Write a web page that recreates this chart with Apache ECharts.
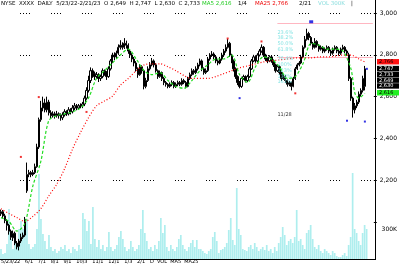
<!DOCTYPE html>
<html><head><meta charset="utf-8">
<script src="https://cdn.jsdelivr.net/npm/echarts/dist/echarts.min.js"></script>
<style>html,body{margin:0;padding:0;background:#fff}#c{width:400px;height:264px}</style>
</head><body><div id="c"></div>
<script>
const opens = [2040,2050,2030,2008,1985,1957,1925,1947,1900,1885,
 1910,1928,1938,2150,2228,2237,2228,2237,2265,2359,
 2490,2546,2570,2537,2574,2523,2509,2518,2509,2518,
 2509,2499,2513,2528,2518,2537,2528,2546,2556,2546,
 2556,2556,2565,2593,2630,2677,2724,2710,2696,2705,
 2687,2696,2724,2715,2696,2733,2771,2799,2790,2808,
 2836,2846,2836,2855,2846,2818,2799,2780,2761,2733,
 2705,2743,2724,2649,2677,2733,2752,2771,2752,2724,
 2696,2715,2687,2668,2659,2649,2659,2668,2649,2659,
 2668,2659,2677,2668,2649,2687,2705,2724,2715,2733,
 2752,2771,2733,2715,2724,2780,2799,2804,2790,2771,
 2761,2780,2799,2818,2836,2855,2799,2771,2733,2696,
 2668,2649,2687,2696,2677,2696,2733,2771,2790,2771,
 2799,2818,2836,2799,2780,2771,2790,2771,2752,2724,
 2743,2715,2687,2696,2677,2659,2668,2649,2687,2733,
 2752,2761,2790,2836,2874,2902,2883,2855,2836,2864,
 2846,2827,2836,2818,2827,2836,2818,2808,2827,2836,
 2818,2808,2827,2836,2818,2800,2687,2593,2537,2556,
 2574,2612,2630,2649];
const closes = [2050,2030,2008,1985,1957,1928,1947,1900,1882,1910,
 1928,1938,2013,2228,2237,2228,2237,2265,2359,2490,
 2546,2570,2537,2574,2523,2509,2518,2509,2518,2509,
 2499,2513,2528,2518,2537,2528,2546,2556,2546,2556,
 2556,2565,2593,2630,2677,2724,2710,2696,2705,2687,
 2696,2724,2715,2696,2733,2771,2799,2790,2808,2836,
 2846,2836,2855,2846,2818,2799,2780,2761,2733,2705,
 2743,2724,2649,2677,2733,2752,2771,2752,2724,2696,
 2715,2687,2668,2659,2649,2659,2668,2649,2659,2668,
 2659,2677,2668,2649,2687,2705,2724,2715,2733,2752,
 2771,2733,2715,2724,2780,2799,2804,2790,2771,2761,
 2780,2799,2818,2836,2855,2799,2771,2733,2696,2668,
 2649,2687,2696,2677,2696,2733,2771,2790,2771,2799,
 2818,2836,2799,2780,2771,2790,2771,2752,2724,2743,
 2715,2687,2696,2677,2659,2668,2649,2687,2733,2752,
 2761,2790,2836,2874,2902,2883,2855,2836,2864,2846,
 2827,2836,2818,2827,2836,2818,2808,2827,2836,2818,
 2808,2827,2836,2818,2808,2687,2593,2537,2556,2574,
 2612,2630,2687,2733];
const lows = [2030,2020,1995,1960,1940,1915,1910,1890,1870,1865,
 1900,1920,1930,2140,2215,2215,2220,2230,2260,2350,
 2480,2530,2525,2525,2510,2495,2500,2495,2500,2495,
 2485,2488,2505,2508,2510,2515,2520,2535,2535,2538,
 2545,2545,2555,2585,2620,2665,2690,2680,2685,2670,
 2675,2688,2700,2680,2690,2725,2760,2775,2780,2800,
 2825,2825,2828,2830,2805,2785,2765,2745,2720,2690,
 2700,2710,2635,2640,2670,2725,2745,2740,2715,2685,
 2690,2675,2655,2648,2640,2642,2650,2640,2642,2650,
 2650,2652,2660,2640,2645,2680,2698,2705,2708,2725,
 2745,2722,2705,2708,2718,2772,2790,2780,2760,2750,
 2755,2772,2790,2810,2830,2790,2760,2720,2685,2655,
 2640,2642,2680,2668,2670,2690,2728,2765,2762,2765,
 2792,2810,2790,2770,2760,2765,2762,2742,2715,2718,
 2705,2675,2680,2665,2648,2650,2630,2645,2680,2728,
 2745,2755,2785,2830,2868,2870,2845,2825,2830,2835,
 2815,2820,2808,2810,2820,2808,2798,2800,2820,2808,
 2798,2800,2820,2808,2795,2675,2580,2500,2520,2545,
 2565,2600,2620,2630];
const highs = [2060,2058,2040,2015,1992,1965,1960,1955,1910,1920,
 1945,1950,2025,2285,2250,2245,2250,2280,2375,2500,
 2580,2600,2590,2600,2585,2535,2530,2528,2532,2525,
 2520,2525,2540,2535,2550,2545,2560,2570,2565,2565,
 2568,2575,2605,2645,2700,2740,2735,2720,2718,2712,
 2705,2735,2730,2722,2745,2780,2810,2812,2820,2850,
 2870,2860,2880,2868,2855,2825,2808,2790,2770,2740,
 2755,2750,2730,2690,2745,2765,2785,2778,2760,2730,
 2725,2720,2695,2675,2665,2668,2678,2675,2668,2677,
 2675,2688,2685,2675,2695,2715,2735,2732,2745,2762,
 2782,2778,2740,2735,2790,2808,2818,2812,2795,2778,
 2790,2810,2828,2850,2875,2862,2805,2778,2740,2702,
 2675,2695,2705,2702,2705,2742,2780,2800,2798,2808,
 2828,2850,2842,2805,2788,2798,2795,2778,2758,2750,
 2750,2720,2705,2702,2682,2675,2672,2695,2742,2760,
 2770,2800,2845,2890,2925,2910,2890,2862,2880,2870,
 2852,2845,2842,2835,2845,2842,2825,2835,2845,2842,
 2825,2835,2848,2842,2825,2810,2695,2600,2570,2585,
 2625,2640,2700,2747];
const volumes = [100,50,60,150,500,200,100,250,150,300,
 380,300,250,400,150,100,120,150,300,850,
 400,250,180,100,240,120,80,100,60,80,
 120,100,140,80,100,60,120,100,80,140,
 100,460,400,280,380,150,520,200,120,190,
 100,140,80,120,270,120,80,100,140,220,
 280,200,120,80,100,180,120,80,100,140,
 300,490,260,180,100,120,80,140,100,180,
 410,260,340,120,80,140,100,80,120,200,
 240,140,100,80,120,160,190,120,190,100,
 100,80,60,50,80,100,220,270,180,60,
 90,100,120,160,290,410,190,140,710,300,
 240,100,90,80,120,140,100,160,120,80,
 100,120,90,140,80,100,60,120,80,160,
 220,320,240,140,180,200,160,220,490,180,
 200,140,100,260,290,340,200,120,100,140,
 80,60,100,80,60,40,80,60,30,20,
 20,40,60,30,140,220,860,300,260,180,
 140,260,340,300];
const maShortIdx = [0,4,8,12,16,20,24,28,32,36,40,44,48,52,56,60,64,68,72,76,80,84,88,92,96,100,104,108,112,116,120,124,128,132,136,140,144,148,152,156,160,164,168,172,176,178,180,182,183];
const maShortVal = [2022,2003,1957,1994,2172,2289,2485,2509,2518,2528,
 2546,2593,2687,2724,2761,2799,2827,2780,2724,2705,
 2715,2677,2649,2640,2677,2724,2752,2780,2780,2799,
 2705,2668,2743,2790,2780,2743,2687,2696,2761,2855,
 2846,2827,2827,2818,2733,2616,2593,2607,2616];
const maLongIdx = [0,4,8,12,16,20,24,28,32,36,40,44,48,52,56,60,64,68,72,76,80,84,88,92,96,100,104,108,112,116,120,124,128,132,136,140,144,148,152,156,160,164,168,172,176,180,183];
const maLongVal = [2064,2041,2022,2003,2027,2064,2125,2181,2256,2350,
 2429,2499,2556,2579,2602,2654,2687,2724,2752,2757,
 2757,2743,2724,2701,2687,2687,2687,2696,2710,2724,
 2738,2747,2757,2766,2771,2776,2780,2785,2785,2785,
 2790,2790,2794,2799,2799,2780,2766];
const priceGridLevels = [3000, 2800, 2200];
const pinkLevels = [2953, 2790];
const pinkFrom = 139;
const fibIdx = 139;
const fibVals = [2907, 2880, 2852, 2825, 2780, 2752, 2724, 2696, 2670];
const fibTexts = ['23.6%','38.2%','50.0%','61.8%','76.4%','100%','123%','138%','161%'];
const redMarkIdx = [10, 19, 43, 114, 131, 148];
const redMarkVal = [2312, 2598, 2527, 2878, 2864, 2616];
const blueMarkIdx = [156, 120, 174, 183, 184];
const blueMarkVal = [2958, 2593, 2485, 2481, 2733];
const dateNoteIdx = 139, dateNoteVal = 2513, dateNoteText = '11/28';
const nCats = 188;
const volTickLabel = '300K';

// categories: trading days
const categories = [];
(function(){ let d = new Date(Date.UTC(2022,4,23)); while (categories.length < nCats) { const w = d.getUTCDay(); if (w!==0 && w!==6) categories.push((d.getUTCMonth()+1)+'/'+d.getUTCDate()); d = new Date(d.getTime()+86400000);} })();

const candleData = opens.map((o,i)=>[o, closes[i], lows[i], highs[i]]);
const FONT = 'DejaVu Sans';
const chart = echarts.init(document.getElementById('c'), null, {renderer:'canvas'});
const dotted = {color:'#000', width:1, type:[1,2,1,2,1,2,1,21], dashOffset:11};
const markLineData = priceGridLevels.map(v=>({yAxis:v, lineStyle:dotted}))
  .concat(pinkLevels.map(v=>[{coord:[pinkFrom, v], lineStyle:{color:'#ffb6c1', width:1, type:'solid'}},{coord:[nCats-1, v]}]));

chart.setOption({
  animation:false,
  backgroundColor:'#fff',
  grid:[
    {left:0, right:24, top:13, height:256.5},
    {left:0, right:24, top:0, bottom:5}
  ],
  xAxis:[
    {type:'category', data:categories, gridIndex:0, show:false, boundaryGap:true},
    {type:'category', data:categories, gridIndex:1, boundaryGap:true,
     axisLine:{lineStyle:{color:'#000', width:1}}, axisTick:{show:false}, axisLabel:{show:false}}
  ],
  yAxis:[
    {type:'value', gridIndex:0, position:'right', min:1800, max:3000, interval:200,
     axisLine:{show:false}, splitLine:{show:false},
     axisTick:{show:true, length:3, lineStyle:{color:'#000'}},
     axisLabel:{fontSize:6, fontFamily:FONT, color:'#000', margin:6,
       formatter:v=> v>=2200 ? v.toLocaleString('en-US') : ''}},
    {type:'value', gridIndex:1, position:'right', min:0, max:2590, interval:300,
     axisLine:{show:true, lineStyle:{color:'#000', width:1}}, splitLine:{show:false},
     axisTick:{show:false},
     axisLabel:{fontSize:6, fontFamily:FONT, color:'#000', margin:6,
       formatter:v=> v===300 ? volTickLabel : ''}}
  ],
  series:[
    {type:'bar', xAxisIndex:1, yAxisIndex:1, data:volumes, barWidth:'85%',
     itemStyle:{color:'#aeeeee'}, z:1, silent:true},
    {type:'candlestick', xAxisIndex:0, yAxisIndex:0, data:candleData, barWidth:'90%',
     itemStyle:{color:'#fff', color0:'#000', borderColor:'#000', borderColor0:'#000', borderWidth:1},
     z:5,
     markLine:{silent:true, symbol:['none','none'], label:{show:false}, data:markLineData, animation:false}},
    {type:'line', xAxisIndex:0, yAxisIndex:0, data:maLongIdx.map((x,i)=>[x, maLongVal[i]]),
     smooth:0.3, showSymbol:false, lineStyle:{color:'#ff0000', width:1.2, type:[1,2]}, z:6},
    {type:'line', xAxisIndex:0, yAxisIndex:0, data:maShortIdx.map((x,i)=>[x, maShortVal[i]]),
     smooth:0.3, showSymbol:false, lineStyle:{color:'#22dd22', width:1.2, type:[3,2]}, z:7},
    {type:'scatter', xAxisIndex:0, yAxisIndex:0, data:redMarkIdx.map((x,i)=>[x, redMarkVal[i]]),
     symbol:'rect', symbolSize:[2,2], itemStyle:{color:'#ee0000'}, z:8},
    {type:'scatter', xAxisIndex:0, yAxisIndex:0, data:blueMarkIdx.map((x,i)=>[x, blueMarkVal[i]]),
     symbol:'rect', symbolSize:(v,p)=> p.dataIndex===0 ? [4,3] : [2,2], itemStyle:{color:'#0000dd'}, z:8},
    {type:'scatter', xAxisIndex:0, yAxisIndex:0, data:fibVals.map((v,i)=>[fibIdx, v]),
     symbolSize:0, z:8,
     label:{show:true, position:'right', distance:0, fontSize:5, fontFamily:FONT,
       formatter:p=>fibTexts[p.dataIndex],
       color:'#66dddd'}},
    {type:'scatter', xAxisIndex:0, yAxisIndex:0, data:[[dateNoteIdx, dateNoteVal]],
     symbolSize:0, z:8,
     label:{show:true, position:'right', distance:0, fontSize:5, fontFamily:FONT, color:'#000', formatter:dateNoteText}}
  ],
  graphic:[
    {type:'text', left:1, top:1, style:{text:'NYSE  XXXX  DAILY  5/23/22-2/21/23  O 2,649  H 2,747  L 2,630  C 2,733', fontSize:5.5, fontFamily:FONT, fill:'#000'}},
    {type:'text', left:202, top:1, style:{text:'MA5 2,616', fontSize:5.5, fontFamily:FONT, fill:'#22cc22'}},
    {type:'text', left:238, top:1, style:{text:'1/4', fontSize:5.5, fontFamily:FONT, fill:'#000'}},
    {type:'text', left:255, top:1, style:{text:'MA25 2,766', fontSize:5.5, fontFamily:FONT, fill:'#ee0000'}},
    {type:'text', left:299, top:1, style:{text:'2/21', fontSize:5.5, fontFamily:FONT, fill:'#000'}},
    {type:'text', left:318, top:1, style:{text:'VOL 300K', fontSize:5.5, fontFamily:FONT, fill:'#88dddd'}},
    {type:'text', left:351, top:1, style:{text:'|', fontSize:5.5, fontFamily:FONT, fill:'#000'}},
    {type:'text', left:1, top:259.5, style:{text:'5/23/22   6/1   7/1   8/1   9/1   10/3   11/1   12/1   1/3   2/1   D  VOL  MA5  MA25', fontSize:5, fontFamily:FONT, fill:'#000'}}
  ]
});

// right-side value boxes: stacked downward from the long-MA position on the price scale
(function(){
  const last = closes.length-1;
  const items = [
    {v:maLongVal[maLongVal.length-1], bg:'#ff1010', fg:'#000'},
    {v:highs[last], bg:'#000', fg:'#fff'},
    {v:closes[last], bg:'#000', fg:'#fff'},
    {v:opens[last], bg:'#000', fg:'#fff'},
    {v:lows[last], bg:'#000', fg:'#fff'},
    {v:maShortVal[maShortVal.length-1], bg:'#22ee22', fg:'#000'}
  ];
  const h = 5.8;
  const y0 = chart.convertToPixel({yAxisIndex:0}, items[0].v);
  const els = [];
  items.forEach((it,k)=>{
    const c = y0 + k*h + (k>0 ? 1 : 0) + (k===items.length-1 ? 1 : 0);
    els.push({type:'rect', id:'bx'+k, shape:{x:377, y:c-h/2, width:22, height:h-0.4}, style:{fill:it.bg}, z:100});
    els.push({type:'text', id:'bt'+k, x:379, y:c-h/2+0.3, style:{text:it.v.toLocaleString('en-US'), fontSize:5, fontFamily:FONT, fill:it.fg}, z:101});
  });
  chart.setOption({graphic:els});
})();
</script>
</body></html>
